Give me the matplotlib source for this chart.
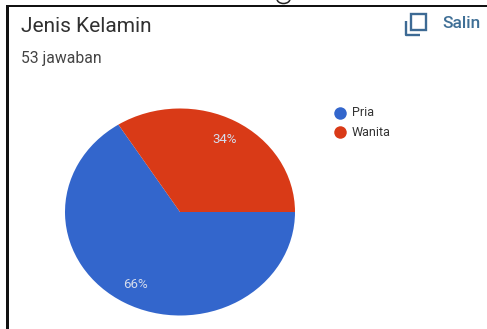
import matplotlib
matplotlib.use("Agg")
import matplotlib.pyplot as plt
from matplotlib.patches import Rectangle, Arc

categories = ["Pria", "Wanita"]
shares = [66, 34]
colors = ["#3366cc", "#d93a17"]
title = "Jenis Kelamin"
subtitle = "53 jawaban"
copy_label = "Salin"

W, H = 487, 329
plt.rcParams["font.family"] = ["Roboto", "DejaVu Sans"]
fig = plt.figure(figsize=(W / 100, H / 100), dpi=100, facecolor="white")

# Pixel-based overlay for the card frame, heading and copy icon
ov = fig.add_axes([0, 0, 1, 1])
ov.set_xlim(0, W)
ov.set_ylim(H, 0)
ov.axis("off")

ov.add_patch(Rectangle((6, 4.5), W, 2.5, color="#111111", lw=0))
ov.add_patch(Rectangle((6, 4.5), 2.7, H, color="#111111", lw=0))

# Small curved stroke above the frame's top edge
ov.add_patch(Arc((283.5, -1), 13, 9, theta1=0, theta2=180, color="#222222", lw=1.1))

ov.text(21, 26.5, title, fontsize=15, color="#303030", va="center", ha="left")
ov.text(21, 59, subtitle, fontsize=11.3, color="#444444", va="center", ha="left")
ov.text(442, 23.5, copy_label, fontsize=12.5, color="#3f6f96", va="center", ha="left",
        fontweight="medium")

# Copy icon: front square and the back corner
icon = "#3d6a94"
ov.add_patch(Rectangle((411, 14), 14.5, 16, fill=False, ec=icon, lw=1.7))
ov.plot([405.5, 405.5, 420], [21, 35, 35], color=icon, lw=1.7, solid_capstyle="butt")

# Pie, clockwise from the 3 o'clock edge shared by both slices; the axes box is
# wider than tall, so the pie comes out slightly elliptical
cx, cy, rx, ry = 180, 212, 115, 103.5
pie_ax = fig.add_axes([(cx - rx) / W, 1 - (cy + ry) / H, 2 * rx / W, 2 * ry / H])
wedges, _, autotexts = pie_ax.pie(
    shares, colors=colors, startangle=0, counterclock=False, radius=1.0,
    autopct="%d%%", pctdistance=0.8,
    textprops=dict(color="#d5dcec", fontsize=9.5),
)
pie_ax.set_aspect("auto")
pie_ax.set_xlim(-1, 1)
pie_ax.set_ylim(-1, 1)

# Legend entries
for name, col, y in zip(categories, colors, [113, 132]):
    ov.plot([340], [y], marker="o", ms=9, color=col, mec="none")
    ov.text(352, y, name, fontsize=9, color="#333333", va="center", ha="left")

fig.savefig("out.png", dpi=100)
